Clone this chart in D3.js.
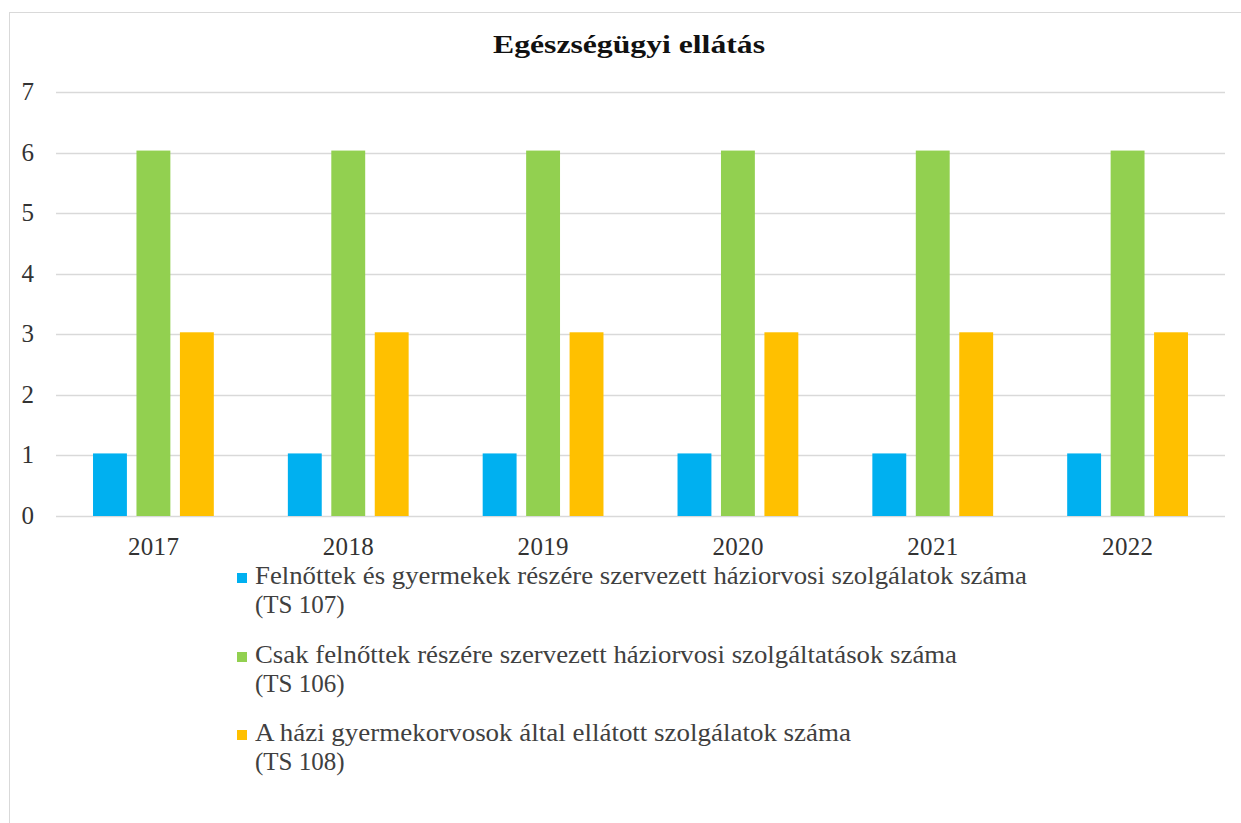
<!DOCTYPE html>
<html>
<head>
<meta charset="utf-8">
<script src="https://cdn.jsdelivr.net/npm/d3@7"></script>
<style>
  body { margin: 0; background: #fff; }
</style>
</head>
<body>
<div class="canvas"></div>
<script>
// data
const years = ['2017', '2018', '2019', '2020', '2021', '2022'];
const seriesNames = [
  ['Felnőttek és gyermekek részére szervezett háziorvosi szolgálatok száma', '(TS 107)'],
  ['Csak felnőttek részére szervezett háziorvosi szolgáltatások száma', '(TS 106)'],
  ['A házi gyermekorvosok által ellátott szolgálatok száma', '(TS 108)']
];
const ts107 = [1, 1, 1, 1, 1, 1];
const ts106 = [6, 6, 6, 6, 6, 6];
const ts108 = [3, 3, 3, 3, 3, 3];
const yTicks = [0, 1, 2, 3, 4, 5, 6, 7];
const colors = ['#00B0F0', '#92D050', '#FFC000'];

const width = 1241, height = 823;
const margin = { top: 92, right: 16, bottom: 307, left: 56 };
const graphWidth = width - margin.left - margin.right;
const graphHeight = height - margin.top - margin.bottom;
const serif = '"Liberation Serif", "Times New Roman", serif';

const svg = d3.select('.canvas')
  .append('svg')
  .attr('width', width)
  .attr('height', height);

// outer border
svg.append('rect')
  .attr('x', 9.5).attr('y', 12.5)
  .attr('width', width - 9).attr('height', height - 12)
  .attr('fill', 'none')
  .attr('stroke', '#d9d9d9');

svg.append('text')
  .text('Egészségügyi ellátás')
  .attr('x', 629).attr('y', 53)
  .attr('text-anchor', 'middle')
  .style('font-family', serif)
  .style('font-size', '26px')
  .style('font-weight', 'bold')
  .attr('textLength', 272)
  .attr('lengthAdjust', 'spacingAndGlyphs')
  .attr('fill', '#111');

const graph = svg.append('g')
  .attr('transform', `translate(${margin.left}, ${margin.top})`);

// scales
const x0 = d3.scaleBand().domain(years).range([0, graphWidth])
  .paddingInner(0.38).paddingOuter(0.19);
const x1 = d3.scaleBand().domain([0, 1, 2]).range([0, x0.bandwidth()])
  .paddingInner(0.22).paddingOuter(0);
const y = d3.scaleLinear().domain([0, 7]).range([graphHeight, 0]);

// gridlines
graph.append('g')
  .selectAll('line')
  .data(yTicks)
  .join('line')
  .attr('x1', 0).attr('x2', graphWidth)
  .attr('y1', d => Math.round(y(d)) + 0.5)
  .attr('y2', d => Math.round(y(d)) + 0.5)
  .attr('stroke', '#d9d9d9')
  .attr('stroke-width', 1.5);

// y axis labels
const yAxisGroup = graph.append('g')
  .call(d3.axisLeft(y).tickValues(yTicks).tickFormat(d3.format('d')).tickSize(0).tickPadding(22));
yAxisGroup.select('.domain').remove();
yAxisGroup.selectAll('text')
  .style('font-family', serif)
  .style('font-size', '25px')
  .attr('dy', '0.3em')
  .attr('fill', '#333');

// x axis labels
const xAxisGroup = graph.append('g')
  .attr('transform', `translate(0, ${graphHeight})`)
  .call(d3.axisBottom(x0).tickSize(0));
xAxisGroup.select('.domain').remove();
xAxisGroup.selectAll('text')
  .style('font-family', serif)
  .style('font-size', '25px')
  .attr('y', 39)
  .attr('dy', 0)
  .attr('textLength', 51)
  .attr('lengthAdjust', 'spacing')
  .attr('fill', '#333');

// bars
const series = [ts107, ts106, ts108];
const groups = graph.selectAll('g.year')
  .data(years)
  .join('g')
  .attr('class', 'year')
  .attr('transform', d => `translate(${x0(d)}, 0)`);

groups.selectAll('rect')
  .data((d, i) => series.map((s, k) => ({ k, v: s[i] })))
  .join('rect')
  .attr('x', d => x1(d.k))
  .attr('width', x1.bandwidth())
  .attr('y', d => y(d.v) - 2)
  .attr('height', d => y(0) - y(d.v) + 2)
  .attr('fill', d => colors[d.k]);

// legend
const legend = svg.append('g').attr('transform', 'translate(237, 0)');
const legendTop = [584, 663, 741];
const lineLen = [772, 702, 596];

seriesNames.forEach((lines, i) => {
  const item = legend.append('g').attr('transform', `translate(0, ${legendTop[i]})`);
  item.append('rect')
    .attr('x', 0).attr('y', -11)
    .attr('width', 10).attr('height', 10)
    .attr('fill', colors[i]);
  item.append('text')
    .text(lines[0])
    .attr('x', 18).attr('y', 0)
    .style('font-family', serif)
    .style('font-size', '25px')
    .attr('textLength', lineLen[i])
    .attr('lengthAdjust', 'spacingAndGlyphs')
    .attr('fill', '#404040');
  item.append('text')
    .text(lines[1])
    .attr('x', 18).attr('y', 29)
    .style('font-family', serif)
    .style('font-size', '25px')
    .attr('fill', '#404040');
});
</script>
</body>
</html>
